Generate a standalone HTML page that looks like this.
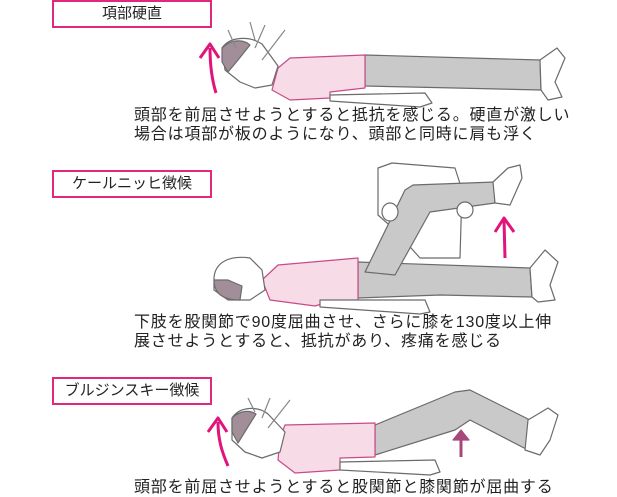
<!DOCTYPE html>
<html><head><meta charset="utf-8"><style>
html,body{margin:0;padding:0;background:#fff;width:617px;height:497px;overflow:hidden;position:relative;font-family:"Liberation Sans","Noto Sans CJK JP",sans-serif;color:#222}
.box{position:absolute;border:2px solid #e0287d;background:#fff;font-size:15px;line-height:24px;text-align:center;box-sizing:border-box}
.t{position:absolute;left:134px;font-size:16px;line-height:19px;letter-spacing:0.8px;white-space:nowrap;color:#222}
svg{position:absolute;left:0;top:0}
</style></head><body>
<svg width="617" height="497" viewBox="0 0 617 497">
<g stroke="#6b6b6b" stroke-width="1.2" stroke-linejoin="round">
<path d="M365 55 L540 60 L541 90 L455 88 L365 86 Z" fill="#c9c9c9"/>
<path d="M540 60 L557 48 L565 58 L555 82 L562 97 L548 100 L541 90 Z" fill="#fff"/>
<path d="M290 58 L365 55 L365 88 L330 92 L330 98 L290 100 L272 90 L278 68 Z" fill="#f7dbe6" stroke="#c94a8a"/>
<path d="M330 95 L425 93 L432 103 L420 107 L330 101 Z" fill="#fff"/>
<path d="M222 48 C230 36 250 36 262 44 L278 66 L272 85 L255 88 L240 82 L225 70 Z" fill="#fff"/>
<path d="M222 48 C232 38 245 40 250 45 L238 60 L228 72 L222 62 Z" fill="#a28e98"/>
<path d="M228 30 L236 48 M250 22 L255 40 M265 25 L255 48 M285 30 L262 60" stroke="#888" fill="none"/>
<path d="M216 93 C212 80 210 65 210 48" stroke="#e0147a" stroke-width="3" fill="none"/>
<path d="M200 58 L210 44 L219 58" stroke="#e0147a" stroke-width="3" fill="none"/>

<path d="M378 168 L392 163 L455 168 L462 190 L460 258 L420 258 L395 230 L378 215 Z" fill="#fff"/>
<path d="M358 262 L530 268 L532 297 L440 295 L358 298 Z" fill="#c9c9c9"/>
<path d="M530 268 L545 250 L558 262 L550 285 L555 300 L538 302 L532 297 Z" fill="#fff"/>
<path d="M365 272 L405 190 L413 185 L495 182 L495 203 L430 212 L395 275 Z" fill="#c9c9c9"/>
<path d="M493 182 L508 168 L520 165 L522 178 L510 205 L495 203 Z" fill="#fff"/>
<ellipse cx="390" cy="212" rx="8" ry="9" fill="#fff"/>
<ellipse cx="465" cy="210" rx="8" ry="8" fill="#fff"/>
<path d="M278 265 L358 258 L358 300 L325 303 L315 306 L270 300 L262 280 Z" fill="#f7dbe6" stroke="#c94a8a"/>
<path d="M320 300 L425 300 L430 312 L420 314 L320 307 Z" fill="#fff"/>
<path d="M214 278 C215 262 230 255 250 258 L262 270 L265 290 L250 300 L228 300 L214 290 Z" fill="#fff"/>
<path d="M214 280 C214 295 225 300 240 300 L242 286 L228 280 Z" fill="#a28e98"/>
<path d="M505 258 L504 220" stroke="#e0147a" stroke-width="3" fill="none"/>
<path d="M495 232 L504 218 L514 232" stroke="#e0147a" stroke-width="3" fill="none"/>

<path d="M375 425 L455 392 L470 390 L530 420 L528 450 L470 420 L455 430 L375 455 Z" fill="#c9c9c9"/>
<path d="M528 420 L548 408 L558 415 L550 440 L540 455 L525 450 Z" fill="#fff"/>
<path d="M285 425 L375 423 L375 457 L340 458 L340 470 L295 473 L278 460 L280 438 Z" fill="#f7dbe6" stroke="#c94a8a"/>
<path d="M340 462 L435 460 L440 472 L430 475 L340 470 Z" fill="#fff"/>
<path d="M232 418 C240 406 258 406 268 414 L285 432 L280 452 L262 458 L245 452 L232 440 Z" fill="#fff"/>
<path d="M232 418 C240 410 250 410 256 414 L246 430 L238 443 L232 432 Z" fill="#a28e98"/>
<path d="M248 398 L255 412 M270 398 L262 418 M290 400 L268 428" stroke="#888" fill="none"/>
<path d="M228 466 C222 452 218 440 218 422" stroke="#e0147a" stroke-width="3" fill="none"/>
<path d="M208 432 L218 418 L227 432" stroke="#e0147a" stroke-width="3" fill="none"/>
<path d="M461 457 L461 434" stroke="#a8487a" stroke-width="3" fill="none"/>
<path d="M453 440 L461 430 L469 440 Z" fill="#a8487a" stroke="#a8487a"/>
</g>
</svg>
<div class="box" style="left:52px;top:0;width:160px;height:28px">項部硬直</div>
<div class="t" style="top:106px">頭部を前屈させようとすると抵抗を感じる。硬直が激しい</div>
<div class="t" style="top:125px">場合は項部が板のようになり、頭部と同時に肩も浮く</div>
<div class="box" style="left:52px;top:170px;width:160px;height:28px">ケールニッヒ徴候</div>
<div class="t" style="top:313px">下肢を股関節で90度屈曲させ、さらに膝を130度以上伸</div>
<div class="t" style="top:332px">展させようとすると、抵抗があり、疼痛を感じる</div>
<div class="box" style="left:52px;top:377px;width:160px;height:28px">ブルジンスキー徴候</div>
<div class="t" style="top:478px">頭部を前屈させようとすると股関節と膝関節が屈曲する</div>
</body></html>
